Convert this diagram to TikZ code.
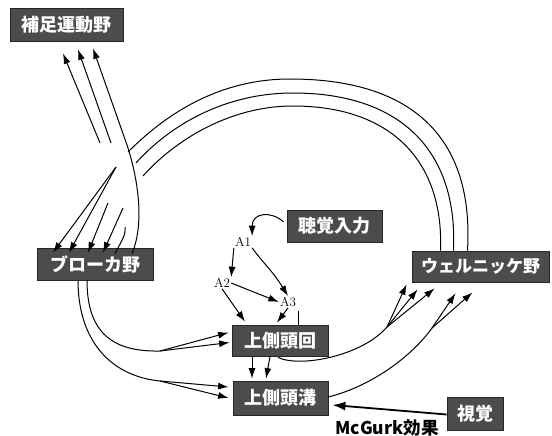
\documentclass[tikz,border=0pt]{standalone}
\usepackage{fontspec}
\newfontfamily\jp{Noto Sans CJK JP}
\usetikzlibrary{arrows.meta,calc}
\begin{document}
\begin{tikzpicture}[x=1pt,y=-1pt,
  box/.style={draw=black!85,line width=0.8pt,fill=black!70,text=white,
    font=\jp\bfseries\fontsize{18}{18}\selectfont,inner sep=0pt,anchor=center},
  lab/.style={font=\fontsize{13}{13}\selectfont,inner sep=1pt},
  con/.style={line width=1pt,-{Latex[length=10.5pt,width=7pt]}},
  ln/.style={line width=1pt}]
\useasboundingbox (0,0) rectangle (552,436);
% boxes
\node[box,minimum width=113pt,minimum height=33pt] (sma) at (66.5,24.5) {補足運動野};
\node[box,minimum width=116pt,minimum height=32pt] (broca) at (95,264) {ブローカ野};
\node[box,minimum width=95pt,minimum height=32pt] (audin) at (334.5,226) {聴覚入力};
\node[box,minimum width=137pt,minimum height=31pt,font=\jp\bfseries\fontsize{17}{17}\selectfont] (wern) at (480.5,266.5) {ウェルニッケ野};
\node[box,minimum width=96pt,minimum height=31pt] (stg) at (280,340.5) {上側頭回};
\node[box,minimum width=95pt,minimum height=34pt] (sts) at (280.5,398) {上側頭溝};
\node[box,minimum width=56pt,minimum height=33pt] (vis) at (475,413.5) {視覚};
\node[font=\jp\bfseries\fontsize{17.5}{17.5}\selectfont,inner sep=0pt] (mcg) at (387,428) {McGurk効果};
% A labels
\node[lab] (a1) at (243,242) {A1};
\node[lab] (a2) at (222,283) {A2};
\node[lab] (a3) at (288,302) {A3};
% named points
\coordinate (arcOL) at (128,152);
\coordinate (arcML) at (136,163);
\coordinate (arcIL) at (143,176);
\coordinate (fanA) at (116,167);
\coordinate (fanB) at (108,203);
\coordinate (fanC) at (123,208);
\coordinate (hook) at (125,227);
\coordinate (smaT1) at (100,143);
\coordinate (smaT2) at (111,143);
\coordinate (fIn) at (160,351);
\coordinate (fOut) at (160,381);
\coordinate (fStg) at (387,327);
\coordinate (fSts) at (432,328);
\coordinate (tick) at (298,311);
% big arcs from Wernicke
\draw[ln] ([xshift=-13pt]wern.north) .. controls (474,140) and (415,79) .. (290,79)
   .. controls (215,79) and (162,118) .. (arcOL);
\draw[ln] ([xshift=-27pt]wern.north) .. controls (458,150) and (400,93) .. (293,93)
   .. controls (225,93) and (170,125) .. (arcML);
\draw[ln] ([xshift=-40pt]wern.north) .. controls (444,160) and (390,106) .. (293,106)
   .. controls (230,106) and (175,140) .. (arcIL);
% fan to SMA
\draw[con] ([xshift=37pt,yshift=-6pt]broca.north) .. controls (146,220) and (136,172) .. (127,145)
   -- ([xshift=26.5pt,yshift=-7pt]sma.south);
\draw[con] (smaT2) -- ([xshift=11.5pt,yshift=-8pt]sma.south);
\draw[con] (smaT1) -- ([xshift=-3.5pt,yshift=-12pt]sma.south);
% fan to Broca
\draw[con] (fanA) -- ([xshift=-42pt,yshift=-5pt]broca.north);
\draw[con] (fanA) -- ([xshift=-26pt,yshift=-5pt]broca.north);
\draw[con] (fanB) -- ([xshift=-7pt,yshift=-5pt]broca.north);
\draw[con] (fanC) -- ([xshift=8pt,yshift=-5pt]broca.north);
\draw[ln] (hook) .. controls (126,235) and (122,240) .. ([xshift=20pt,yshift=-6pt]broca.north);
% auditory chain
\draw[con] ([xshift=-3pt,yshift=4pt]audin.west) .. controls (272,211) and (252,212) .. (a1.north east);
\draw[con] (a1.south west) -- (a2.north east);
\draw[con] (a1.south east) .. controls (262,262) and (272,270) .. (a3.north);
\draw[con] (a2.east) -- (a3.west);
\draw[con] (a2.south) -- ([xshift=-35pt,yshift=3pt]stg.north);
\draw[con] (a3.south) -- ([xshift=-3pt,yshift=2pt]stg.north);
\draw[ln] (tick) -- ([xshift=18pt]stg.north);
% STG -> STS
\draw[con] ([xshift=-28pt]stg.south) -- ([xshift=-28.5pt,yshift=2pt]sts.north);
\draw[con] ([xshift=-10pt]stg.south) -- ([xshift=-14.5pt,yshift=2pt]sts.north);
% Broca -> STG / STS
\draw[ln] ([xshift=-8pt]broca.south) .. controls (87,335) and (115,352) .. (fIn);
\draw[con] (fIn) -- ([xshift=-3pt,yshift=8pt]stg.west);
\draw[con] (fIn) -- ([xshift=-2pt,yshift=-2pt]stg.west);
\draw[ln] ([xshift=-17pt]broca.south) .. controls (78,340) and (110,376) .. (fOut);
\draw[con] (fOut) -- ([xshift=-4pt,yshift=11pt]sts.west);
\draw[con] (fOut) -- ([xshift=-4pt]sts.west);
% STG -> Wernicke
\draw[ln] ([xshift=-2pt,yshift=-1pt]stg.south) .. controls (300,368) and (362,356) .. (fStg);
\draw[con] (fStg) -- ([xshift=-5pt,yshift=-2pt]wern.south west);
\draw[con] (fStg) -- ([xshift=6pt,yshift=-7pt]wern.south west);
\draw[con] (fStg) -- ([xshift=23pt,yshift=-6pt]wern.south west);
% STS -> Wernicke
\draw[ln] ([yshift=1pt]sts.east) .. controls (372,386) and (412,356) .. (fSts);
\draw[con] (fSts) -- ([xshift=-25pt,yshift=-11pt]wern.south);
\draw[con] (fSts) -- ([xshift=-8pt,yshift=-10pt]wern.south);
% vision -> STS
\draw[line width=1.8pt,-{Latex[length=13pt,width=9pt]}] ([yshift=-1pt]vis.west) -- ([xshift=4pt,yshift=-7pt]sts.east);
\end{tikzpicture}
\end{document}
